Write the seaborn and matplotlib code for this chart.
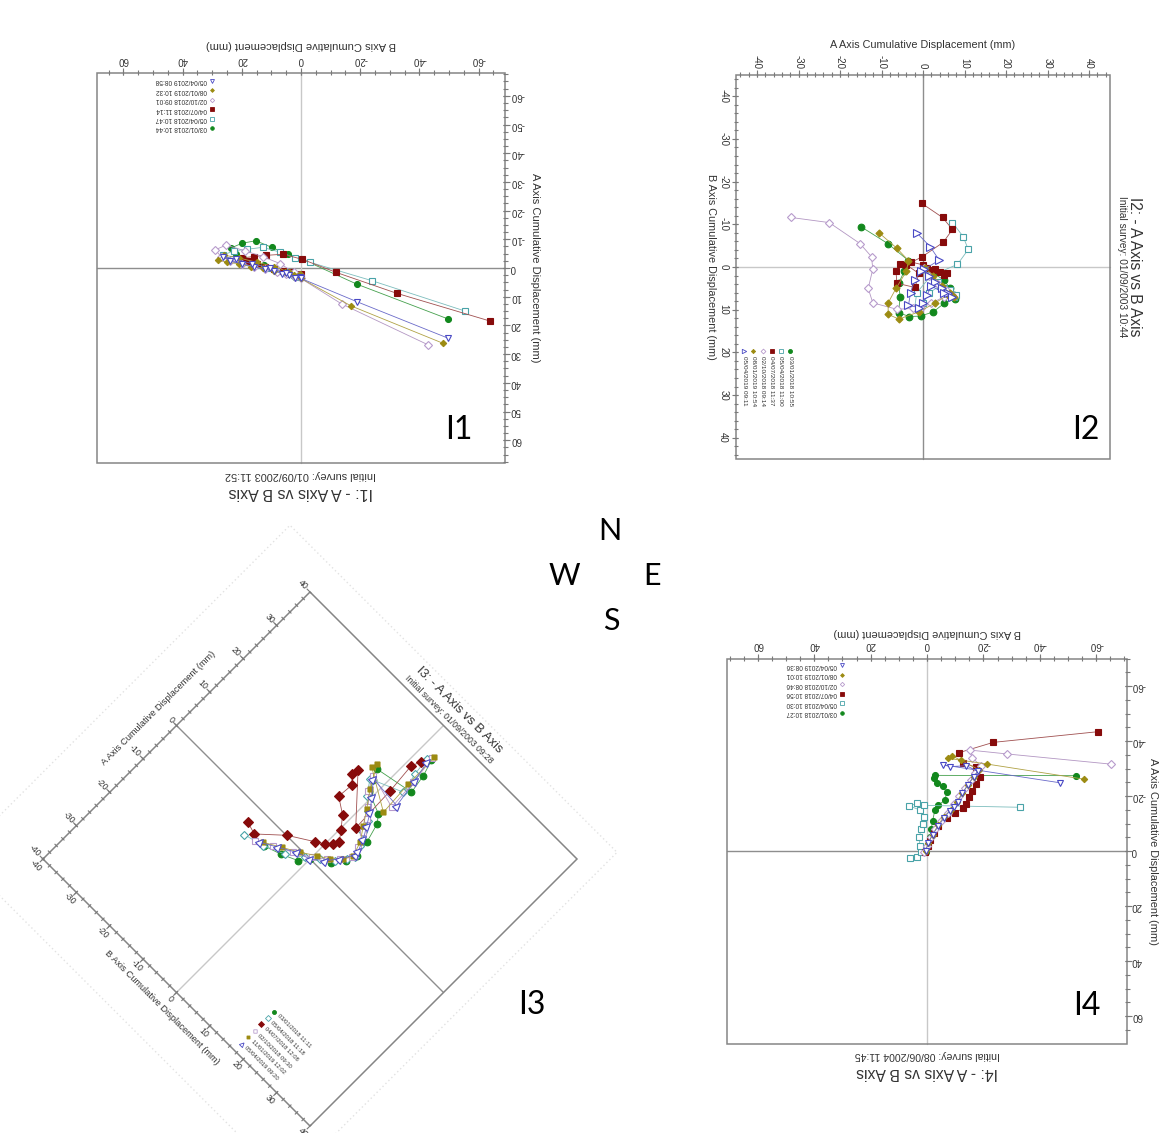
import matplotlib

matplotlib.use("Agg")
import matplotlib.pyplot as plt
import numpy as np
import seaborn as sns
from matplotlib.collections import LineCollection
from matplotlib.markers import MarkerStyle
from matplotlib.patches import Rectangle
from matplotlib.transforms import Affine2D

W, H = 1159, 1133

# ---- survey readings, (B, A) cumulative displacement in mm, deep -> surface ----
# series order in every panel: 03/01/2018, 05/04/2018, 04/07/2018, 02/10/2018, 01/2019, 05/04/2019
I1_DATES = ["03/01/2018 10:44", "05/04/2018 10:47", "04/07/2018 11:14",
            "02/10/2018 09:01", "08/01/2019 10:32", "05/04/2019 08:58"]
I1_B = [
    [0.5, 2.0, 4.5, 7.0, 9.5, 12.5, 16.0, 19.5, 22.0, 23.8, 20.0, 15.3, 9.9, 4.5, -0.5, -18.8, -49.8],
    [0.3, 2.5, 5.0, 8.0, 11.5, 15.0, 19.0, 23.0, 26.5, 22.5, 18.4, 12.9, 7.0, 2.0, -3.0, -23.9, -55.4],
    [0.0, 1.5, 3.5, 6.0, 9.0, 12.0, 15.0, 18.0, 20.0, 16.0, 11.9, 6.0, -0.5, -11.8, -32.3, -63.9],
    [0.2, 2.0, 5.0, 8.0, 12.0, 16.0, 20.0, 24.0, 27.0, 29.0, 25.3, 19.0, 13.0, 7.0, 2.5, 0.1, -13.7, -43.0],
    [0.3, 2.5, 5.5, 9.0, 13.0, 17.0, 21.0, 25.0, 28.0, 26.0, 21.0, 15.0, 9.0, 4.0, 0.1, -16.9, -47.9],
    [0.5, 2.0, 4.0, 6.5, 9.0, 12.0, 16.0, 20.0, 24.0, 26.2, 22.0, 16.5, 10.5, 5.0, 0.1, -18.8, -49.8],
]
I1_A = [
    [2.5, 3.0, 2.0, 1.0, 0.0, -1.0, -2.0, -3.5, -5.0, -6.9, -8.6, -9.5, -7.2, -4.8, -3.0, 5.6, 17.8],
    [3.0, 2.5, 1.5, 1.0, 0.0, -1.0, -2.0, -3.0, -4.5, -6.0, -6.5, -7.2, -5.5, -3.5, -2.0, 4.4, 15.0],
    [2.0, 2.5, 1.5, 1.0, 0.5, -0.5, -1.5, -2.5, -3.5, -4.0, -4.4, -4.8, -3.0, 1.5, 8.8, 18.5],
    [2.5, 3.0, 2.0, 1.5, 0.5, -0.5, -1.5, -2.5, -4.0, -6.3, -8.0, -6.0, -4.0, -1.5, 1.5, 3.6, 12.5, 26.8],
    [2.0, 2.5, 1.5, 1.0, 0.0, -0.5, -1.5, -2.0, -2.8, -4.5, -3.5, -2.0, -0.5, 1.5, 3.6, 13.2, 26.2],
    [3.0, 3.5, 2.5, 2.0, 1.0, 0.5, -0.5, -1.5, -2.5, -4.0, -3.0, -1.5, 0.0, 1.8, 3.6, 11.7, 24.5],
]

I2_DATES = ["03/01/2018 10:55", "05/04/2018 11:00", "04/07/2018 11:37",
            "02/10/2018 09:14", "08/01/2019 10:54", "05/04/2019 09:11"]
I2_B = [
    [0.5, 1.5, 3.0, 5.0, 6.5, 7.5, 8.5, 10.5, 11.5, 11.6, 10.7, 7.0, 3.8, 1.0, -1.5, -5.5, -9.4],
    [0.5, 2.0, 3.5, 5.0, 6.0, 7.0, 6.5, 5.5, 4.5, 6.0, 8.5, 9.5, 6.0, 2.0, -0.6, -4.1, -7.1, -10.4],
    [0.3, 0.8, 1.2, 1.8, 1.5, 0.5, -0.5, -1.2, -0.8, 1.0, 3.8, 4.8, 1.5, -0.5, -2.4, -5.8, -8.8, -11.6, -14.9],
    [0.3, 2.0, 4.0, 5.5, 6.5, 7.0, 8.5, 9.5, 9.7, 9.9, 8.4, 5.0, 0.5, -2.4, -5.5, -10.4, -11.6],
    [0.3, 2.0, 4.5, 6.0, 7.0, 6.5, 8.4, 10.5, 12.2, 11.1, 8.4, 5.0, 1.0, -1.5, -4.4, -8.0],
    [0.5, 2.0, 3.5, 5.0, 6.0, 7.0, 6.0, 4.5, 6.5, 8.5, 9.5, 9.0, 6.0, 3.0, 1.0, -1.6, -4.8, -7.9],
]
I2_A = [
    [0.5, 2.5, 5.0, 6.5, 7.5, 7.7, 5.1, 2.5, -0.6, -3.3, -5.9, -5.5, -5.9, -4.5, -3.5, -8.5, -14.9],
    [0.5, 2.0, 3.5, 5.0, 6.5, 7.5, 8.0, 6.5, 4.0, 1.5, 0.0, -2.0, -1.5, 2.0, 8.3, 10.9, 9.7, 7.1],
    [1.0, 2.5, 4.0, 5.0, 5.7, 3.0, 0.0, -3.0, -5.5, -6.5, -6.3, -1.9, -1.0, -4.0, -0.2, 4.9, 7.1, 4.7, -0.3],
    [0.3, 1.5, 3.5, 5.5, 7.0, 5.0, 2.0, -0.5, -2.3, -6.3, -12.1, -13.2, -12.1, -12.4, -15.2, -22.6, -31.8],
    [0.5, 2.5, 4.5, 6.5, 7.5, 6.0, 3.0, -1.0, -5.8, -8.4, -8.4, -6.5, -4.0, -3.5, -6.3, -10.6],
    [0.3, 1.5, 3.0, 4.5, 6.0, 7.0, 5.0, 2.0, 1.0, 0.0, -1.0, -3.5, -3.0, -2.0, -0.5, 3.9, 1.7, -1.4],
]

I3_DATES = ["03/01/2018 11:11", "05/04/2018 11:18", "04/07/2018 12:08",
            "02/10/2018 09:30", "11/01/2019 12:02", "05/04/2019 09:20"]
I3_B = [
    [-8.8, -5.0, -1.5, 0.0, 3.7, 5.8, 6.5, 6.0, 4.8, 3.5, -1.1, -2.4, -3.5, 5.2, 4.5, 3.4],
    [-13.5, -9.0, -4.5, -1.0, 1.5, 4.0, 5.5, 6.5, 5.5, 4.0, 3.0, 1.5, -1.0, -3.0, 4.0, 3.0, 2.5],
    [-14.8, -12.1, -7.0, -1.9, 0.0, 1.2, 1.8, 0.3, -1.75, -5.1, -4.8, -6.4, -6.2, 2.2, 1.8, 1.2, 2.1],
    [-11.0, -7.5, -3.5, 0.0, 2.5, 4.5, 6.0, 5.5, 4.0, 2.5, 1.0, -1.5, -3.0, 4.5, 4.0, 3.2],
    [-9.5, -6.0, -2.5, 0.5, 3.0, 5.0, 6.0, 5.0, 3.0, 1.0, -1.5, -4.2, -4.5, 4.0, 3.5, 3.4],
    [-10.0, -6.5, -3.0, 0.0, 2.5, 4.5, 6.2, 6.0, 5.0, 3.5, 2.0, 0.0, -2.5, 5.0, 4.0, 3.0],
]
I3_A = [
    [-4.9, -3.6, -2.0, 0.0, 2.6, 5.1, 7.5, 11.0, 15.3, 17.0, 18.9, 21.4, 23.5, 25.2, 29.5, 33.0],
    [-6.2, -5.0, -3.0, -0.5, 1.5, 3.5, 5.5, 7.0, 9.5, 12.0, 14.5, 16.0, 18.0, 21.0, 24.0, 28.5, 32.5],
    [-3.8, -4.6, 0.1, 3.3, 4.5, 5.7, 7.0, 9.0, 11.5, 13.7, 17.4, 19.0, 20.6, 11.5, 22.3, 29.1, 31.2],
    [-5.5, -3.5, -1.5, 0.5, 2.5, 4.5, 6.5, 9.0, 12.0, 14.5, 16.5, 19.0, 22.0, 20.0, 27.0, 33.5],
    [-4.5, -2.5, -0.5, 1.5, 3.0, 5.0, 7.0, 10.0, 13.0, 16.0, 19.5, 24.3, 23.0, 18.0, 26.0, 33.9],
    [-5.0, -3.0, -1.0, 0.0, 2.0, 4.5, 7.5, 8.5, 11.0, 13.5, 16.0, 18.5, 21.5, 21.0, 27.5, 32.0],
]

I4_DATES = ["03/01/2018 10:27", "05/04/2018 10:30", "04/07/2018 10:56",
            "02/10/2018 08:46", "08/01/2019 10:01", "05/04/2019 08:36"]
I4_B = [
    [0.5, -0.5, -1.0, -1.5, -2.0, -2.8, -4.0, -6.4, -7.0, -5.5, -3.4, -2.5, -2.8, -52.8],
    [6.0, 3.7, 2.0, 2.5, 2.8, 2.0, 1.5, 1.0, 2.5, 6.3, 3.4, 1.0, -33.0],
    [0.7, -0.5, -1.1, -2.5, -4.0, -7.0, -10.0, -12.9, -14.0, -15.0, -16.0, -17.5, -18.8, -17.4, -12.9, -11.5, -23.5, -60.8],
    [1.0, 0.0, -1.5, -3.0, -5.0, -7.5, -9.5, -11.5, -13.5, -15.5, -17.0, -19.0, -16.0, -15.2, -28.3, -65.1],
    [0.5, -0.5, -2.0, -4.0, -6.0, -8.5, -10.5, -12.5, -14.5, -16.5, -18.5, -12.0, -9.0, -7.6, -21.4, -55.8],
    [0.5, -0.5, -2.0, -4.0, -6.0, -8.0, -9.5, -11.0, -12.5, -14.5, -16.5, -18.0, -14.0, -8.2, -5.8, -47.2],
]
I4_A = [
    [0.5, -2.0, -5.0, -8.0, -11.0, -14.9, -16.7, -18.5, -21.6, -23.5, -24.6, -26.4, -27.5, -27.4],
    [2.7, 2.1, 0.5, -2.0, -5.0, -8.0, -10.0, -12.5, -14.9, -16.4, -17.3, -16.6, -15.9],
    [0.2, -2.0, -4.0, -6.5, -9.1, -12.0, -14.0, -15.5, -17.0, -19.5, -22.0, -24.5, -27.0, -30.4, -32.1, -35.8, -39.5, -43.4],
    [0.5, -2.0, -5.0, -8.0, -11.0, -14.0, -17.0, -20.0, -23.0, -26.0, -28.5, -31.0, -34.0, -36.7, -35.3, -31.6],
    [0.0, -3.0, -6.0, -9.5, -12.5, -15.0, -18.0, -21.0, -24.0, -27.0, -29.5, -33.0, -34.5, -33.7, -31.6, -26.1],
    [0.0, -3.0, -6.0, -9.0, -12.0, -14.5, -16.0, -18.0, -21.0, -24.0, -27.0, -29.0, -31.0, -30.7, -31.3, -24.8],
]

TITLES = ["I1: - A Axis vs B Axis", "I2: - A Axis vs B Axis",
          "I3: - A Axis vs B Axis", "I4: - A Axis vs B Axis"]
SURVEYS = ["Initial survey: 01/09/2003 11:52", "Initial survey: 01/09/2003 10:44",
           "Initial survey: 01/09/2003 09:28", "Initial survey: 08/06/2004 11:45"]
PANEL_NAMES = ["I1", "I2", "I3", "I4"]
COMPASS = ["N", "W", "E", "S"]

TICKS_20 = [-60, -40, -20, 0, 20, 40, 60]
TICKS_10_60 = [-60, -50, -40, -30, -20, -10, 0, 10, 20, 30, 40, 50, 60]
TICKS_10_40 = [-40, -30, -20, -10, 0, 10, 20, 30, 40]

# ---- styles ----
MARKERS = ["o", "s", "s", "D", "D", "^"]
MS_SCALE = [1.0, 0.95, 1.0, 0.85, 0.75, 1.1]
EDGE = ["#12881d", "#49a3a8", "#870b0b", "#b79bcc", "#9c8b12", "#4848c4"]
FACE = ["#12881d", "white", "#870b0b", "white", "#9c8b12", "white"]
LINE = ["#45a04d", "#7dbdbd", "#a05050", "#b397c3", "#b0a245", "#6a6ac9"]
TEXT = "#333333"

# layout of each rotated panel: frame centre in pixels, pixels per mm, rotation
PANELS = [
    dict(cx=301, cy=268, sx=2.96, sy=2.87, angle=180, blim=(-69, 69), alim=(-68, 68),
         bminor=5, aminor=2.5, ms=4.3, legend=(30.0, -48.8, 3.28),
         gap_b=8, gap_l=5, xlab=28, ylab=30, tit=29, sub=12, fs=(7, 8.0, 11.5, 7.8, 4.8)),
    dict(cx=923, cy=267, sx=4.27, sy=4.15, angle=-90, blim=(-45, 45), alim=(-45, 45),
         bminor=2, aminor=2, ms=4.8, legend=(19.7, -32.0, 2.22),
         gap_b=8, gap_l=6, xlab=25, ylab=30, tit=25, sub=12, fs=(7, 7.8, 11.2, 7.3, 4.6)),
    dict(cx=310, cy=859, sx=4.72, sy=4.72, angle=-45, blim=(-40, 40), alim=(-40, 40),
         bminor=2, aminor=2, ms=4.8, legend=(17.5, -28.2, 1.94),
         gap_b=5, gap_l=5, xlab=21, ylab=25, tit=22, sub=8, fs=(6.3, 6.7, 9.3, 6.2, 4.2),
         ghost=(-53, 45, -52, 47)),
    dict(cx=927, cy=851, sx=2.82, sy=2.75, angle=180, blim=(-71, 71), alim=(-70, 70),
         bminor=5, aminor=5, ms=4.3, legend=(30.1, -50.2, 3.48),
         gap_b=8, gap_l=4, xlab=26, ylab=26, tit=29, sub=11, fs=(7, 7.9, 11.3, 7.6, 4.7)),
]


def draw_panel(ax, g, b_data, a_data, dates, title, survey, b_ticks, a_ticks):
    ang = g["angle"]
    tr = (Affine2D().scale(g["sx"], g["sy"]).rotate_deg(ang)
          .translate(g["cx"], H - g["cy"]) + ax.transData)
    pb, pa = 1.0 / g["sx"], 1.0 / g["sy"]  # mm per pixel along B / A
    (b0, b1), (a0, a1) = g["blim"], g["alim"]
    bm, am = (b0 + b1) / 2, (a0 + a1) / 2
    fs = g["fs"]
    txt = dict(transform=tr, color=TEXT, rotation_mode="anchor")

    if "ghost" in g:
        gb0, gb1, ga0, ga1 = g["ghost"]
        ax.add_patch(Rectangle((gb0, ga0), gb1 - gb0, ga1 - ga0, fill=False, ec="#e2e2e2",
                               lw=1.0, ls=(0, (1, 2)), transform=tr, zorder=0))

    ax.plot([b0, b1], [0, 0], color="#8e8e8e", lw=1.0, transform=tr, zorder=1)
    ax.plot([0, 0], [a0, a1], color="#c8c8c8", lw=1.0, transform=tr, zorder=1)
    ax.add_patch(Rectangle((b0, a0), b1 - b0, a1 - a0, fill=False, ec="#858585",
                           lw=1.1, transform=tr, zorder=2))

    # ticks on the (unrotated) bottom and left edges
    b_minor = np.arange(np.ceil(b0 / g["bminor"]) * g["bminor"], b1, g["bminor"])
    a_minor = np.arange(np.ceil(a0 / g["aminor"]) * g["aminor"], a1, g["aminor"])
    segs = [[(v, a0 - 2.5 * pa), (v, a0 + 2 * pa)] for v in b_minor]
    segs += [[(v, a0 - 4.5 * pa), (v, a0 + 2 * pa)] for v in b_ticks]
    segs += [[(b0 - 2.5 * pb, v), (b0 + 2 * pb, v)] for v in a_minor]
    segs += [[(b0 - 4.5 * pb, v), (b0 + 2 * pb, v)] for v in a_ticks]
    ax.add_collection(LineCollection(segs, colors="#7a7a7a", linewidths=0.8,
                                     transform=tr, zorder=2))

    for v in b_ticks:
        ax.text(v, a0 - g["gap_b"] * pa, str(v), ha="center", va="top",
                rotation=ang, fontsize=fs[0], **txt)
    for v in a_ticks:
        ax.text(b0 - g["gap_l"] * pb, v, str(v), ha="right", va="center",
                rotation=ang, fontsize=fs[0], **txt)

    ax.text(bm, a0 - g["xlab"] * pa, "B Axis Cumulative Displacement (mm)",
            ha="center", va="center", rotation=ang, fontsize=fs[1], **txt)
    ax.text(b0 - g["ylab"] * pb, am, "A Axis Cumulative Displacement (mm)",
            ha="center", va="center", rotation=ang + 90, fontsize=fs[1], **txt)
    ax.text(bm, a1 + g["tit"] * pa, title, ha="center", va="center",
            rotation=ang, fontsize=fs[2], **txt)
    ax.text(bm, a1 + g["sub"] * pa, survey, ha="center", va="center",
            rotation=ang, fontsize=fs[3], **txt)

    marks = [MarkerStyle(m, transform=Affine2D().rotate_deg(ang)) for m in MARKERS]

    for i in range(len(b_data)):
        sns.lineplot(x=b_data[i], y=a_data[i], sort=False, estimator=None, ax=ax,
                     legend=False, color=LINE[i], lw=0.6, marker=marks[i],
                     ms=g["ms"] * MS_SCALE[i], mfc=FACE[i], mec=EDGE[i], mew=0.8,
                     transform=tr, zorder=3 + i)

    lb, la, lda = g["legend"]
    for i, d in enumerate(dates):
        y = la - i * lda
        ax.plot([lb], [y], ls="none", marker=marks[i], ms=g["ms"] * 0.6 * MS_SCALE[i],
                mfc=FACE[i], mec=EDGE[i], mew=0.6, transform=tr, zorder=3)
        ax.text(lb + 5 * pb, y, d, ha="left", va="center", rotation=ang,
                fontsize=fs[4], **txt)


sns.set_theme(style="white")
plt.rcParams["font.family"] = ["Liberation Sans", "DejaVu Sans"]

fig = plt.figure(figsize=(W / 100, H / 100), dpi=100)
ax = fig.add_axes([0, 0, 1, 1])

data = [(I1_B, I1_A, I1_DATES, TICKS_20, TICKS_10_60),
        (I2_B, I2_A, I2_DATES, TICKS_10_40, TICKS_10_40),
        (I3_B, I3_A, I3_DATES, TICKS_10_40, TICKS_10_40),
        (I4_B, I4_A, I4_DATES, TICKS_20, TICKS_20)]
for g, (bd, ad, dates, bt, at), title, survey in zip(PANELS, data, TITLES, SURVEYS):
    draw_panel(ax, g, bd, ad, dates, title, survey, bt, at)

big = dict(family=["Lato", "DejaVu Sans"], color="black", ha="center", va="center")
for name, (x, y) in zip(PANEL_NAMES, [(459, 430), (1086, 430), (532, 1005), (1087, 1006)]):
    ax.text(x, H - y, name, fontsize=23, **big)
for letter, (x, y) in zip(COMPASS, [(610, 531), (564, 576), (652, 576), (611, 621)]):
    ax.text(x, H - y, letter, fontsize=22, **big)

ax.set_xlim(0, W)
ax.set_ylim(0, H)
ax.axis("off")
fig.savefig("out.png", dpi=100, facecolor="white")
